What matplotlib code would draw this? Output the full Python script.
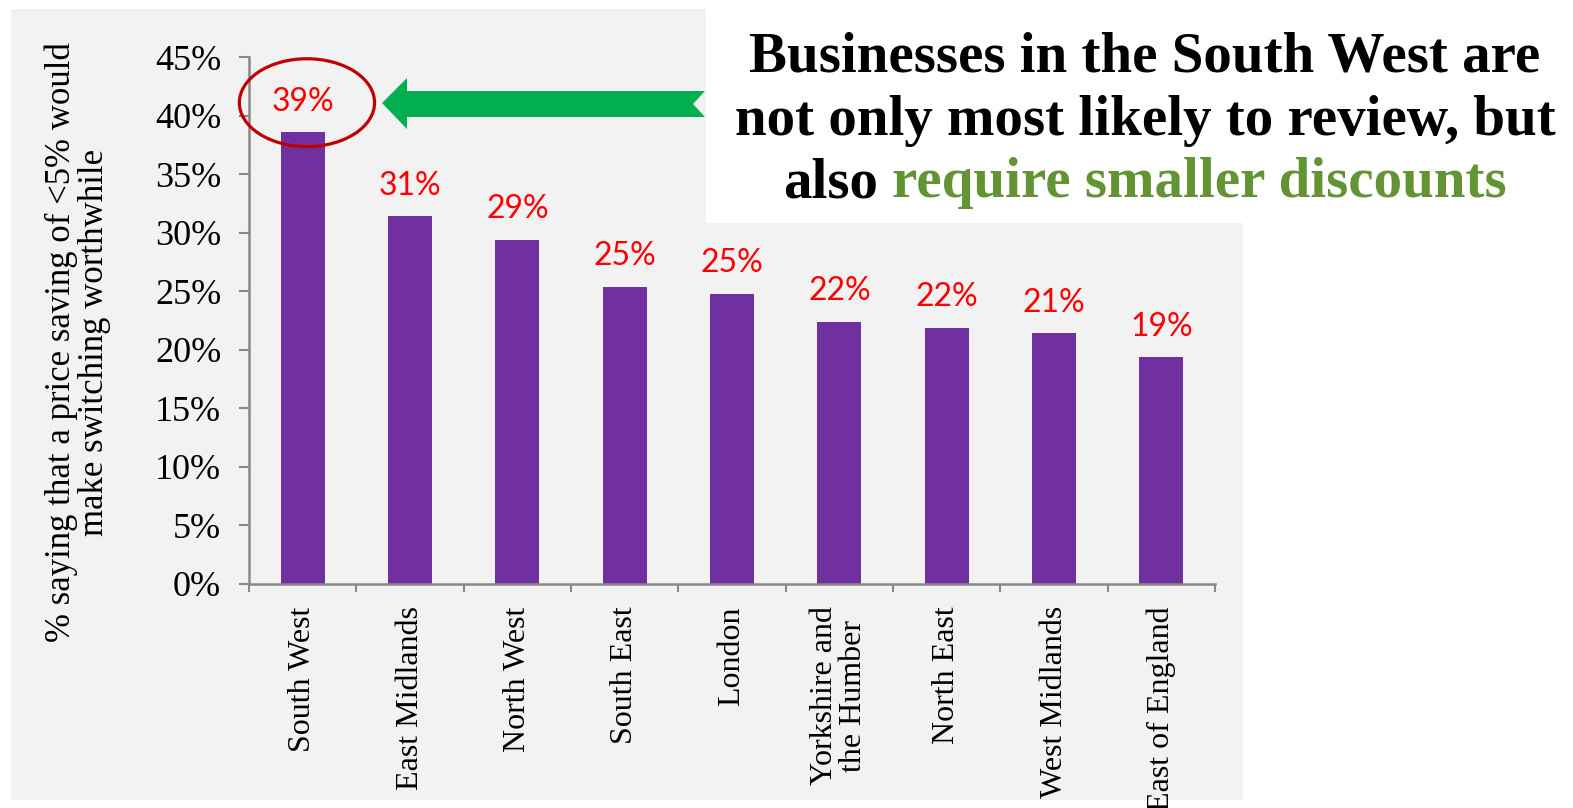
import matplotlib.pyplot as plt
from matplotlib.patches import Rectangle, Polygon, Ellipse
import numpy as np

regions = ['South West', 'East Midlands', 'North West', 'South East', 'London',
           'Yorkshire and\nthe Humber', 'North East', 'West Midlands', 'East of England']
share = [38.6, 31.4, 29.4, 25.4, 24.8, 22.4, 21.9, 21.4, 19.4]
yticks = [0, 5, 10, 15, 20, 25, 30, 35, 40, 45]

W, H = 1573, 808
fig = plt.figure(figsize=(W / 100, H / 100), dpi=100)
fig.patch.set_facecolor('white')

# pixel-space layer for the slide background, arrow and headline
bg = fig.add_axes([0, 0, 1, 1], zorder=0)
bg.set_xlim(0, W)
bg.set_ylim(H, 0)
bg.axis('off')
bg.add_patch(Rectangle((11, 9), 1232, 791, facecolor='#f2f2f2', edgecolor='none'))

# arrow pointing at the top bar
arrow = [(382, 103), (407, 78), (407, 91), (705, 91), (693, 104),
         (705, 117), (407, 117), (407, 129)]
bg.add_patch(Polygon(arrow, closed=True, facecolor='#00b050', edgecolor='none'))

bg.add_patch(Rectangle((706, 0), W - 706, 223, facecolor='white', edgecolor='none'))

serif = 'Liberation Serif'
cx = 1145
head = dict(fontsize=41, fontweight='bold', family=serif, va='baseline')
bg.text(cx, 72, 'Businesses in the South West are', ha='center', color='black', **head)
bg.text(cx, 135, 'not only most likely to review, but', ha='center', color='black', **head)

# last line: black lead-in, green emphasis
r = fig.canvas.get_renderer()
full = bg.text(cx, 197, 'also require smaller discounts', ha='center', alpha=0, **head)
w = full.get_window_extent(r).width
full.remove()
bg.text(cx - w / 2, 197, 'also', ha='left', color='black', **head)
bg.text(cx + w / 2, 197, 'require smaller discounts', ha='right', color='#629433', **head)

bg.text(78, 342, '% saying that a price saving of <5% would\nmake switching worthwhile',
        rotation=90, ha='center', va='center', multialignment='center',
        fontsize=25, family=serif, linespacing=1.0)

# bar chart
ax = fig.add_axes([249 / W, 1 - 584 / H, (1215 - 249) / W, (584 - 57) / H], zorder=1)
ax.patch.set_alpha(0)
x = np.arange(len(regions))
ax.bar(x, share, width=0.41, color='#7030a0')
for xi, v in zip(x, share):
    ax.annotate(f'{v:.0f}%', (xi, v), xytext=(0, 11), textcoords='offset points',
                ha='center', va='bottom', color='red', fontsize=23, family='Lato')

ax.set_xlim(-0.5, len(regions) - 0.5)
ax.set_ylim(0, 45)
ax.set_yticks(yticks)
ax.set_yticklabels([f'{t}%' for t in yticks], family=serif, fontsize=26)
ax.set_xticks(x)
ax.set_xticklabels(regions, rotation=90, ha='center', va='top', multialignment='center',
                   family=serif, fontsize=23, linespacing=1.0)
ax.set_xticks(np.arange(len(regions) + 1) - 0.5, minor=True)
ax.tick_params(axis='x', which='major', length=0, pad=16)
ax.tick_params(axis='x', which='minor', length=6, width=1.5, color='#888888')
ax.tick_params(axis='y', length=7, width=1.5, color='#888888', pad=13)
for s in ['top', 'right']:
    ax.spines[s].set_visible(False)
for s in ['left', 'bottom']:
    ax.spines[s].set_color('#888888')
    ax.spines[s].set_linewidth(1.8)

ax.add_patch(Ellipse((0.04, 41.1), 1.26, 7.5, fill=False, edgecolor='#c00000',
                     linewidth=2.3, clip_on=False, zorder=3))

fig.savefig('out.png', dpi=100, facecolor='white')
